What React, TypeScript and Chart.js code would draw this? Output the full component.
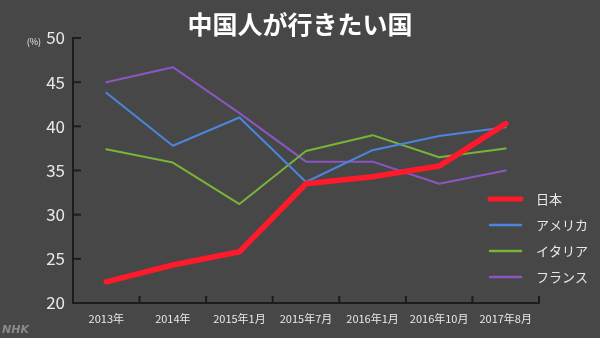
import React, { useEffect, useRef } from "react";
import { Chart, registerables } from "chart.js";

Chart.register(...registerables);

const categories = ["2013年", "2014年", "2015年1月", "2015年7月", "2016年1月", "2016年10月", "2017年8月"];
const japan = [22.4, 24.3, 25.8, 33.5, 34.3, 35.5, 40.3];
const america = [43.8, 37.8, 41.0, 33.7, 37.3, 38.9, 39.9];
const italy = [37.4, 35.9, 31.2, 37.2, 39.0, 36.5, 37.5];
const france = [45.0, 46.7, 41.5, 36.0, 36.0, 33.5, 35.0];
const seriesNames = ["日本", "アメリカ", "イタリア", "フランス"];
const yTicks = { min: 20, max: 50, step: 5 };
const title = "中国人が行きたい国";

const FONT = "'Noto Sans CJK JP', 'Noto Sans', sans-serif";
const BG = "#474747";
const AXIS = "#1c1c1c";
const TEXT = "#e8e8e8";

export default function App() {
  const ref = useRef<HTMLCanvasElement | null>(null);

  useEffect(() => {
    document.body.style.margin = "0";
    document.body.style.background = BG;
    const canvas = ref.current!;

    const bgPlugin = {
      id: "bg",
      beforeDraw(chart: any) {
        const c = chart.ctx;
        c.save();
        c.fillStyle = BG;
        c.fillRect(0, 0, chart.width, chart.height);
        c.restore();
      },
    };

    const decorPlugin = {
      id: "decor",
      afterDraw(chart: any) {
        const c = chart.ctx;
        const { left, bottom } = chart.chartArea;
        const ys = chart.scales.y;
        const xs = chart.scales.x;
        c.save();
        // inward tick marks
        c.strokeStyle = AXIS;
        c.lineWidth = 2;
        ys.ticks.forEach((t: any) => {
          const py = ys.getPixelForValue(t.value);
          c.beginPath();
          c.moveTo(left, py);
          c.lineTo(left + 8, py);
          c.stroke();
        });
        const n = categories.length;
        for (let i = 1; i <= n; i++) {
          const px = xs.left + (i * (xs.right - xs.left)) / n;
          c.beginPath();
          c.moveTo(px, bottom);
          c.lineTo(px, bottom - 7);
          c.stroke();
        }
        // title
        c.fillStyle = "#ffffff";
        c.font = `bold 25px ${FONT}`;
        c.textAlign = "center";
        c.textBaseline = "middle";
        c.fillText(title, 300, 24);
        // unit
        c.fillStyle = TEXT;
        c.font = `9px ${FONT}`;
        c.textAlign = "right";
        c.fillText("(%)", 41, 42);
        // NHK
        c.fillStyle = "#8a8a8a";
        c.font = `italic bold 11px 'DejaVu Sans', sans-serif`;
        c.textAlign = "left";
        c.fillText("NHK", 2, 330);
        // legend
        const ds = chart.data.datasets;
        ds.forEach((d: any, i: number) => {
          const ly = 199 + i * 26;
          c.strokeStyle = d.borderColor;
          c.lineWidth = i === 0 ? 5 : 2.5;
          c.lineCap = "round";
          c.beginPath();
          c.moveTo(490, ly);
          c.lineTo(521, ly);
          c.stroke();
          c.fillStyle = TEXT;
          c.font = `13px ${FONT}`;
          c.textAlign = "left";
          c.textBaseline = "middle";
          c.fillText(d.label, 536, ly);
        });
        c.restore();
      },
    };

    const chart = new Chart(canvas, {
      type: "line",
      data: {
        labels: categories,
        datasets: [
          { label: seriesNames[0], data: japan, borderColor: "#ff1a2b", borderWidth: 5.5 },
          { label: seriesNames[1], data: america, borderColor: "#4a86de", borderWidth: 2 },
          { label: seriesNames[2], data: italy, borderColor: "#77b53a", borderWidth: 2 },
          { label: seriesNames[3], data: france, borderColor: "#8b56c2", borderWidth: 2 },
        ].map((d) => ({ ...d, pointRadius: 0, tension: 0, fill: false, borderCapStyle: "round", borderJoinStyle: "round" })) as any,
      },
      options: {
        animation: false,
        responsive: false,
        layout: { padding: { left: 0, right: 61, top: 38, bottom: 0 } },
        plugins: { legend: { display: false }, tooltip: { enabled: false }, title: { display: false } },
        scales: {
          x: {
            offset: true,
            grid: { display: true, drawOnChartArea: false, drawTicks: false, color: "transparent" },
            border: { color: AXIS, width: 2 },
            ticks: { color: TEXT, font: { size: 11, family: FONT }, padding: 9, maxRotation: 0, autoSkip: false },
            afterFit(s: any) {
              s.height = 35;
            },
          },
          y: {
            min: yTicks.min,
            max: yTicks.max,
            grid: { display: true, drawOnChartArea: false, drawTicks: false, color: "transparent" },
            border: { color: AXIS, width: 2 },
            ticks: { stepSize: yTicks.step, color: TEXT, font: { size: 17, family: FONT }, padding: 8 },
            afterFit(s: any) {
              s.width = 73;
            },
          },
        },
      },
      plugins: [bgPlugin, decorPlugin],
    });
    return () => chart.destroy();
  }, []);

  return (
    <div style={{ width: 600, height: 338, background: BG }}>
      <canvas ref={ref} width={600} height={338} />
    </div>
  );
}
